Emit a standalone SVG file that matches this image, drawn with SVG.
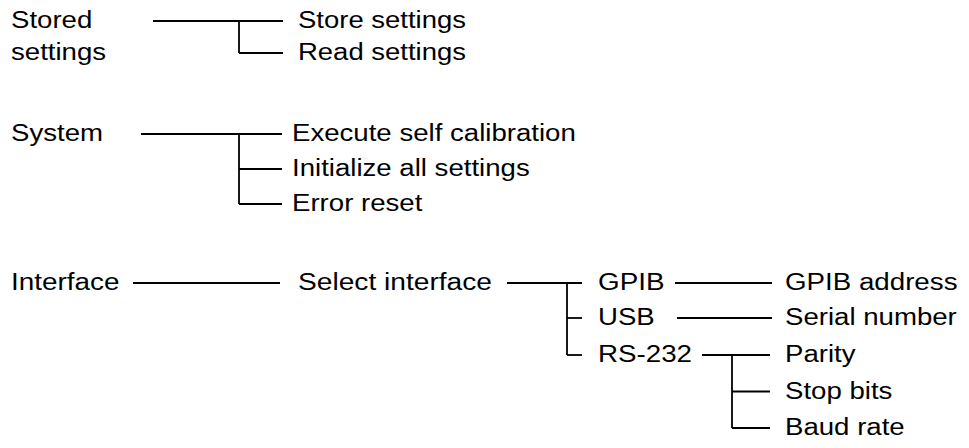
<svg xmlns="http://www.w3.org/2000/svg" width="969" height="448" viewBox="0 0 969 448">
<style>
text{font-family:"Liberation Sans",Arial,sans-serif;font-size:23px;fill:#000;}
.c line{stroke:#000;stroke-width:1.8;fill:none;stroke-linecap:butt;}
</style>
<rect width="969" height="448" fill="#fff"/>
<g class="c" id="connectors">
<line x1="153" y1="21" x2="283" y2="21"/>
<line x1="239" y1="21" x2="239" y2="53"/>
<line x1="239" y1="53" x2="283" y2="53"/>
<line x1="141" y1="134" x2="282" y2="134"/>
<line x1="239" y1="134" x2="239" y2="204"/>
<line x1="239" y1="169" x2="282" y2="169"/>
<line x1="239" y1="204" x2="282" y2="204"/>
<line x1="133" y1="283" x2="280" y2="283"/>
<line x1="507" y1="283" x2="582" y2="283"/>
<line x1="567" y1="283" x2="567" y2="355"/>
<line x1="567" y1="318" x2="582" y2="318"/>
<line x1="567" y1="355" x2="582" y2="355"/>
<line x1="675" y1="283" x2="772" y2="283"/>
<line x1="677" y1="318" x2="772" y2="318"/>
<line x1="702" y1="355" x2="770" y2="355"/>
<line x1="732" y1="355" x2="732" y2="428"/>
<line x1="732" y1="391.5" x2="770" y2="391.5"/>
<line x1="732" y1="428" x2="770" y2="428"/>
</g>
<g id="stored-settings"><text x="11" y="28" textLength="81.3" lengthAdjust="spacingAndGlyphs">Stored</text><text x="11" y="60" textLength="95.1" lengthAdjust="spacingAndGlyphs">settings</text></g>
<g id="store-settings"><text x="298" y="28" textLength="168" lengthAdjust="spacingAndGlyphs">Store settings</text></g>
<g id="read-settings"><text x="298" y="60" textLength="168" lengthAdjust="spacingAndGlyphs">Read settings</text></g>
<g id="system"><text x="11" y="141" textLength="92" lengthAdjust="spacingAndGlyphs">System</text></g>
<g id="execute-self-calibration"><text x="292" y="141" textLength="283.8" lengthAdjust="spacingAndGlyphs">Execute self calibration</text></g>
<g id="initialize-all-settings"><text x="292" y="176" textLength="237.7" lengthAdjust="spacingAndGlyphs">Initialize all settings</text></g>
<g id="error-reset"><text x="292" y="211" textLength="130.4" lengthAdjust="spacingAndGlyphs">Error reset</text></g>
<g id="interface"><text x="11" y="290" textLength="108.5" lengthAdjust="spacingAndGlyphs">Interface</text></g>
<g id="select-interface"><text x="298" y="290" textLength="194" lengthAdjust="spacingAndGlyphs">Select interface</text></g>
<g id="gpib"><text x="598" y="290" textLength="66.5" lengthAdjust="spacingAndGlyphs">GPIB</text></g>
<g id="usb"><text x="598" y="325" textLength="56.7" lengthAdjust="spacingAndGlyphs">USB</text></g>
<g id="rs-232"><text x="598" y="362" textLength="94" lengthAdjust="spacingAndGlyphs">RS-232</text></g>
<g id="gpib-address"><text x="785" y="290" textLength="172.5" lengthAdjust="spacingAndGlyphs">GPIB address</text></g>
<g id="serial-number"><text x="785" y="325" textLength="171.8" lengthAdjust="spacingAndGlyphs">Serial number</text></g>
<g id="parity"><text x="785" y="362" textLength="70.5" lengthAdjust="spacingAndGlyphs">Parity</text></g>
<g id="stop-bits"><text x="785" y="398.5" textLength="107.4" lengthAdjust="spacingAndGlyphs">Stop bits</text></g>
<g id="baud-rate"><text x="785" y="435" textLength="119.7" lengthAdjust="spacingAndGlyphs">Baud rate</text></g>
</svg>
